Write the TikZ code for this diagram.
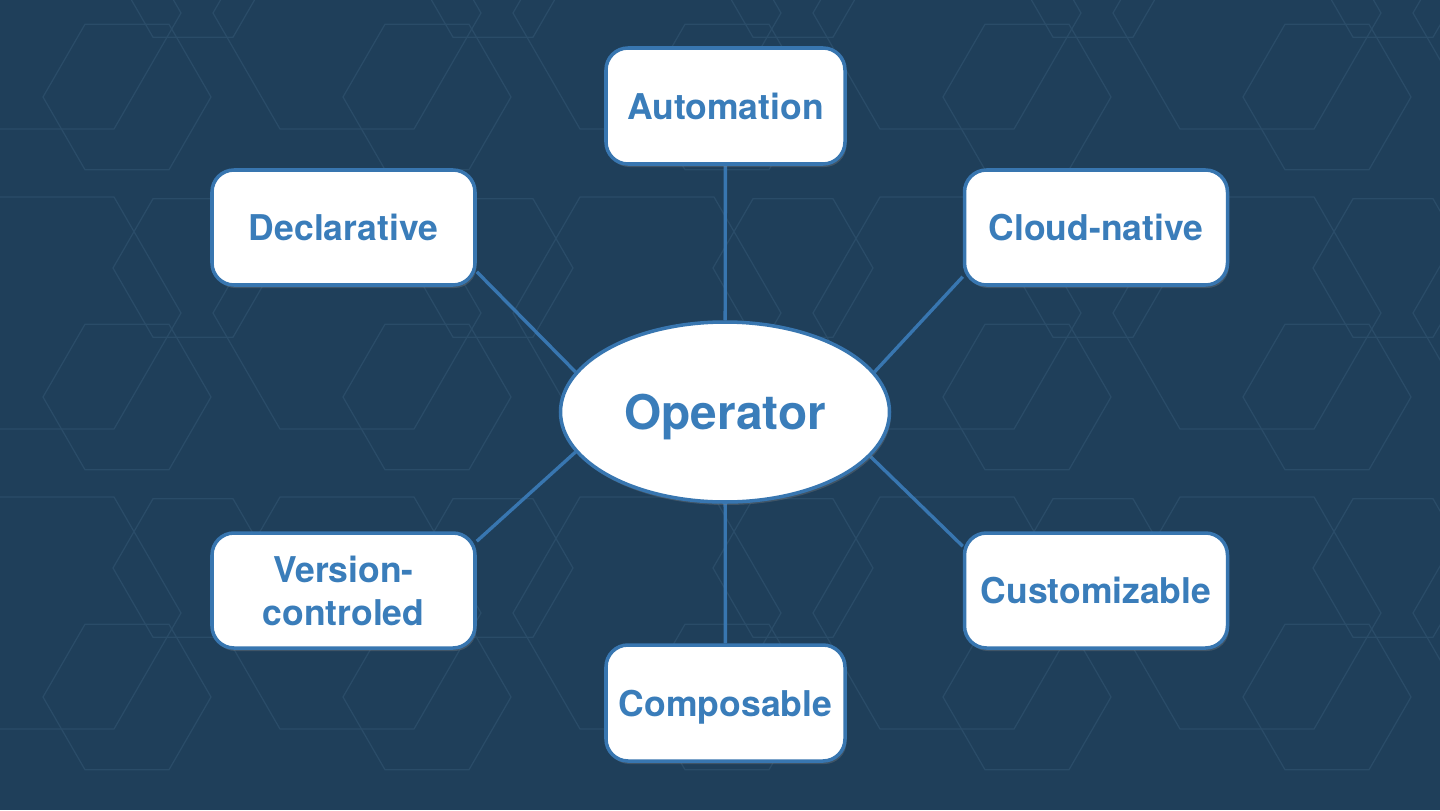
\documentclass[tikz,border=0pt]{standalone}
\usepackage{fontspec}
\setmainfont{TeX Gyre Heros}
\usepackage{xcolor}
\usepackage{tikz}
\usetikzlibrary{shapes.geometric, positioning, calc, backgrounds, shadows}
\definecolor{OPNavy}{RGB}{31,63,90}
\definecolor{OPHex}{RGB}{42,76,104}
\definecolor{OPBlue}{RGB}{58,125,186}
\definecolor{OPEdge}{RGB}{56,118,176}

\begin{document}
\begin{tikzpicture}[
          feat/.style={rectangle, draw=OPEdge, fill=white, line width=1pt,
                       rounded corners=0.22cm, minimum width=2.63cm,
                       minimum height=1.15cm, inner sep=0pt, align=center,
                       text depth=0pt, text=OPBlue,
                       font=\fontsize{10.1}{12.2}\selectfont\bfseries,
                       drop shadow={shadow xshift=0.015cm, shadow yshift=-0.03cm,
                                    opacity=0.35}},
          link/.style={OPEdge, line width=0.95pt},
          hexline/.style={OPHex, line width=0.35pt}
        ]
        \useasboundingbox (0,0) rectangle (14.4,8.1);
        % Background with faint hexagons
        \begin{scope}[on background layer]
          \fill[OPNavy] (0,0) rectangle (14.4,8.1);
          \clip (0,0) rectangle (14.4,8.1);
          \foreach \cx/\cy/\r/\jmax in {1.27/7.13/0.84/2, 1.93/5.42/0.8/1,
                                        3.47/7.97/1.34/2} {
            \foreach \i in {-1,...,4} {
              \foreach \j in {-1,...,\jmax} {
                \draw[hexline] (\cx+3*\i, \cy-3*\j) +(0:\r) -- +(60:\r)
                  -- +(120:\r) -- +(180:\r) -- +(240:\r) -- +(300:\r) -- cycle;
              }
            }
          }
        \end{scope}

        % Center
        \node[ellipse, draw=OPEdge, fill=white, line width=1pt,
              minimum width=3.29cm, minimum height=1.8cm, inner sep=0pt,
              text depth=0pt, text=OPBlue,
              font=\fontsize{13.6}{16}\selectfont\bfseries,
              drop shadow={shadow xshift=0.015cm, shadow yshift=-0.03cm,
                           opacity=0.35}]
              (op) at (7.25, 3.98) {Operator};

        % Features
        \node[feat, minimum width=2.39cm, minimum height=1.16cm]
              (auto) at (7.255, 7.04) {Automation};
        \node[feat] (decl)  at (3.435, 5.825) {Declarative};
        \node[feat] (cloud) at (10.96, 5.825) {Cloud-native};
        \node[feat] (vers)  at (3.435, 2.195) {Version-\\controled};
        \node[feat] (cust)  at (10.96, 2.195) {Customizable};
        \node[feat, minimum width=2.39cm, minimum height=1.16cm]
              (comp) at (7.255, 1.07) {Composable};

        % Links
        \begin{scope}[on background layer]
          \draw[link] (auto) -- (op);
          \draw[link] (comp) -- (op);
          \draw[link] ($(decl.south east)+(0,0.15)$) -- (op.165);
          \draw[link] ($(cloud.south west)+(0,0.1)$) -- (op.15);
          \draw[link] ($(vers.north east)+(0,-0.1)$) -- (op.195);
          \draw[link] ($(cust.north west)+(0,-0.15)$) -- (op.-17);
        \end{scope}
      \end{tikzpicture}
\end{document}
